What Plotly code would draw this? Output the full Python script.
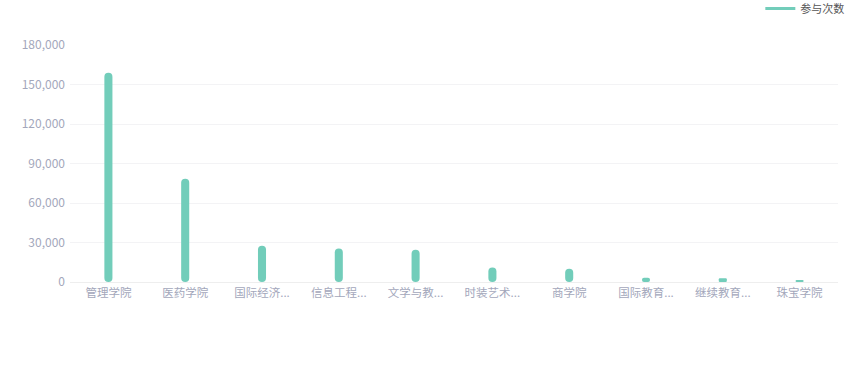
import plotly.graph_objects as go

categories = ["管理学院", "医药学院", "国际经济...", "信息工程...", "文学与教...",
              "时装艺术...", "商学院", "国际教育...", "继续教育...", "珠宝学院"]
values = [159000, 78500, 27500, 25500, 24500, 11000, 10000, 3200, 2900, 900]
series_name = "参与次数"
y_ticks = [0, 30000, 60000, 90000, 120000, 150000, 180000]

color = "#72cdba"
font_family = "Noto Sans CJK SC, Noto Sans, sans-serif"

fig = go.Figure()
fig.add_trace(go.Bar(x=categories, y=values, base=[0] * len(values), width=0.105,
                     marker=dict(color=color, cornerradius=4, line=dict(width=0)),
                     showlegend=False,
                     hovertemplate="%{x}<br>" + series_name + ": %{y:,}<extra></extra>"))
# legend entry
fig.add_trace(go.Scatter(x=[None], y=[None], mode="lines", name=series_name,
                         line=dict(color=color, width=3)))

fig.update_layout(
    width=865, height=390,
    barmode="overlay",
    plot_bgcolor="white", paper_bgcolor="white",
    margin=dict(l=70, r=27, t=45, b=108, autoexpand=False),
    font=dict(family=font_family, size=12, color="#a3a7bb"),
    showlegend=True,
    legend=dict(orientation="h", x=0.879, xanchor="left", y=1.215, yanchor="top",
                xref="container", yref="paper",
                font=dict(size=11, color="#555555"), itemwidth=30,
                bgcolor="rgba(0,0,0,0)"),
)
fig.update_xaxes(type="category", showgrid=False, showline=True, linecolor="#eeeeee",
                 linewidth=1, ticks="", tickfont=dict(size=11.5, color="#a3a7bb"),
                 zeroline=False)
fig.update_yaxes(range=[0, 180000], tickvals=y_ticks, tickformat=",",
                 showgrid=True, gridcolor="#f3f3f5", gridwidth=1,
                 zeroline=False, showline=False, ticks="",
                 tickfont=dict(size=12, color="#a3a7bb"), ticklabelstandoff=4)

fig.write_html("out.html", config={"displayModeBar": False},
               post_script="document.body.style.margin='0';document.body.style.padding='0';")
